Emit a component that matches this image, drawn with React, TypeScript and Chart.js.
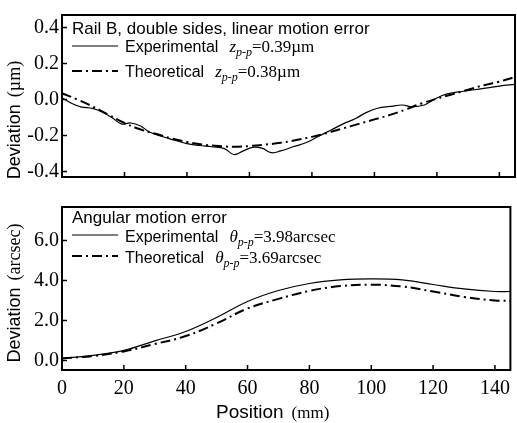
import React, { useEffect, useRef } from "react";
import { Chart, registerables } from "chart.js";

Chart.register(...registerables);

// ---------- data ----------
const xTicks = [0, 20, 40, 60, 80, 100, 120, 140];

const topYTicks = [-0.4, -0.2, 0.0, 0.2, 0.4];
const topExpX = [0, 3, 6, 10, 13, 16, 19, 22, 25, 28, 32, 36, 40, 44, 48, 52, 55, 58, 61, 64, 67, 70, 74, 78, 82, 86, 90, 94, 97, 101, 105, 109, 112, 116, 119, 123, 128, 134, 140, 145];
const topExpY = [0.01, -0.02, -0.04, -0.05, -0.07, -0.1, -0.135, -0.13, -0.145, -0.18, -0.205, -0.225, -0.245, -0.255, -0.262, -0.272, -0.305, -0.285, -0.265, -0.27, -0.295, -0.285, -0.262, -0.24, -0.205, -0.17, -0.135, -0.105, -0.075, -0.048, -0.038, -0.03, -0.04, -0.03, 0.0, 0.03, 0.045, 0.06, 0.075, 0.085];
const topTheoX = [0, 5, 10, 15, 20, 25, 30, 35, 40, 45, 50, 55, 60, 65, 70, 75, 80, 85, 90, 95, 100, 105, 110, 115, 120, 125, 130, 135, 140, 145];
const topTheoY = [0.035, 0.0, -0.04, -0.085, -0.13, -0.165, -0.19, -0.215, -0.235, -0.25, -0.258, -0.262, -0.258, -0.25, -0.24, -0.225, -0.207, -0.185, -0.16, -0.135, -0.11, -0.085, -0.055, -0.022, 0.005, 0.03, 0.055, 0.08, 0.1, 0.125];

const botYTicks = [0, 2, 4, 6];
const botX = [0, 10, 20, 30, 40, 50, 60, 70, 80, 90, 100, 110, 120, 130, 140, 145];
const botExpY = [0.1, 0.25, 0.5, 0.98, 1.45, 2.15, 2.95, 3.5, 3.85, 4.03, 4.08, 4.03, 3.8, 3.58, 3.45, 3.45];
const botTheoY = [0.1, 0.22, 0.45, 0.82, 1.22, 1.85, 2.6, 3.08, 3.48, 3.72, 3.79, 3.7, 3.45, 3.18, 3.0, 2.98];

const topTitle = "Rail B, double sides, linear motion error";
const botTitle = "Angular motion error";
const expLabel = "Experimental";
const theoLabel = "Theoretical";
const topExpMath = { sym: "z", sub: "p-p", val: "=0.39\u00b5m" };
const topTheoMath = { sym: "z", sub: "p-p", val: "=0.38\u00b5m" };
const botExpMath = { sym: "\u03b8", sub: "p-p", val: "=3.98arcsec" };
const botTheoMath = { sym: "\u03b8", sub: "p-p", val: "=3.69arcsec" };

const SANS = '"Liberation Sans", Arial, sans-serif';
const SERIF = '"Liberation Serif", "Times New Roman", serif';
const DASH = [10, 4, 2, 4];

const pts = (xs: number[], ys: number[]) => xs.map((x, i) => ({ x, y: ys[i] }));

type Row = { label: string; math: { sym: string; sub: string; val: string }; dashed: boolean; lineY: number; base: number };
type Spec = {
  title: string;
  titleBase: number;
  rows: Row[];
  yTicks: number[];
  yTitleSans: string;
  yTitleSerif: string;
  yTitleCenter: number;
  xTitle: boolean;
};

function panelPlugin(s: Spec) {
  return {
    id: "panelDeco",
    afterDraw(chart: any) {
      const { ctx, chartArea: a, scales } = chart;
      ctx.save();
      ctx.strokeStyle = "#000";
      ctx.fillStyle = "#000";
      // frame
      ctx.lineWidth = 2;
      ctx.setLineDash([]);
      ctx.strokeRect(a.left, a.top, a.right - a.left, a.bottom - a.top);
      // inward ticks
      ctx.lineWidth = 1.5;
      ctx.beginPath();
      for (const v of xTicks) {
        const px = scales.x.getPixelForValue(v);
        ctx.moveTo(px, a.bottom);
        ctx.lineTo(px, a.bottom - 5);
      }
      for (const v of s.yTicks) {
        const py = scales.y.getPixelForValue(v);
        ctx.moveTo(a.left, py);
        ctx.lineTo(a.left + 5, py);
      }
      ctx.stroke();
      // legend
      const lx = a.left + 10;
      ctx.textBaseline = "alphabetic";
      ctx.textAlign = "left";
      ctx.font = `17px ${SANS}`;
      ctx.fillText(s.title, lx, s.titleBase);
      for (const r of s.rows) {
        ctx.beginPath();
        if (r.dashed) {
          ctx.lineWidth = 2;
          ctx.setLineDash(DASH);
        } else {
          ctx.lineWidth = 1;
          ctx.setLineDash([]);
        }
        ctx.moveTo(lx, r.lineY);
        ctx.lineTo(lx + 46, r.lineY);
        ctx.stroke();
        ctx.setLineDash([]);
        ctx.font = `16px ${SANS}`;
        ctx.fillText(r.label, lx + 53, r.base);
        let x = lx + 53 + ctx.measureText(r.label).width + 11;
        ctx.font = `italic 17px ${SERIF}`;
        ctx.fillText(r.math.sym, x, r.base);
        x += ctx.measureText(r.math.sym).width;
        ctx.font = `italic 12px ${SERIF}`;
        ctx.fillText(r.math.sub, x, r.base + 4);
        x += ctx.measureText(r.math.sub).width;
        ctx.font = `17px ${SERIF}`;
        ctx.fillText(r.math.val, x, r.base);
      }
      // y title
      ctx.save();
      ctx.translate(15, s.yTitleCenter);
      ctx.rotate(-Math.PI / 2);
      ctx.textBaseline = "middle";
      ctx.font = `18px ${SANS}`;
      const w1 = ctx.measureText(s.yTitleSans).width;
      ctx.font = `18px ${SERIF}`;
      const w2 = ctx.measureText(s.yTitleSerif).width;
      const gap = 7;
      const start = -(w1 + gap + w2) / 2;
      ctx.font = `18px ${SANS}`;
      ctx.fillText(s.yTitleSans, start, 0);
      ctx.font = `18px ${SERIF}`;
      ctx.fillText(s.yTitleSerif, start + w1 + gap, 0);
      ctx.restore();
      // x title
      if (s.xTitle) {
        ctx.textBaseline = "alphabetic";
        ctx.font = `19px ${SANS}`;
        const t1 = "Position";
        const tw = ctx.measureText(t1).width;
        ctx.fillText(t1, 216, chart.height - 5);
        ctx.font = `17px ${SERIF}`;
        ctx.fillText("(mm)", 216 + tw + 8, chart.height - 5);
      }
      ctx.restore();
    },
  };
}

function makeOptions(yMin: number, yMax: number, yTicks: number[], showX: boolean, padTop: number, padBottom: number, xHeight: number) {
  return {
    responsive: false,
    animation: false,
    layout: { padding: { top: padTop, bottom: padBottom, left: 0, right: 2 } },
    plugins: { legend: { display: false }, tooltip: { enabled: false }, title: { display: false } },
    elements: { point: { radius: 0 }, line: { tension: 0.4 } },
    scales: {
      x: {
        type: "linear",
        min: 0,
        max: 145,
        display: showX,
        afterBuildTicks: (sc: any) => {
          sc.ticks = xTicks.map((v) => ({ value: v }));
        },
        afterFit: (sc: any) => {
          if (showX) sc.height = xHeight;
        },
        grid: { display: false, drawTicks: false },
        border: { display: false },
        ticks: { padding: 7, color: "#000", font: { family: SERIF, size: 20 }, maxRotation: 0, autoSkip: false },
      },
      y: {
        type: "linear",
        min: yMin,
        max: yMax,
        afterBuildTicks: (sc: any) => {
          sc.ticks = yTicks.map((v) => ({ value: v }));
        },
        afterFit: (sc: any) => {
          sc.width = 62;
        },
        grid: { display: false, drawTicks: false },
        border: { display: false },
        ticks: {
          padding: 3,
          color: "#000",
          font: { family: SERIF, size: 20 },
          callback: (v: any) => Number(v).toFixed(1),
        },
      },
    },
  } as any;
}

function datasets(expX: number[], expY: number[], theoX: number[], theoY: number[]) {
  return [
    { label: expLabel, data: pts(expX, expY), borderColor: "#000", borderWidth: 1.2, fill: false },
    { label: theoLabel, data: pts(theoX, theoY), borderColor: "#000", borderWidth: 2, borderDash: DASH, fill: false },
  ];
}

export default function App() {
  const topRef = useRef<HTMLCanvasElement>(null);
  const botRef = useRef<HTMLCanvasElement>(null);

  useEffect(() => {
    const top = new Chart(topRef.current as HTMLCanvasElement, {
      type: "line",
      data: { datasets: datasets(topExpX, topExpY, topTheoX, topTheoY) as any },
      options: makeOptions(-0.43, 0.47, topYTicks, false, 10, 9, 0),
      plugins: [
        panelPlugin({
          title: topTitle,
          titleBase: 34,
          rows: [
            { label: expLabel, math: topExpMath, dashed: false, lineY: 46, base: 52 },
            { label: theoLabel, math: topTheoMath, dashed: true, lineY: 71, base: 77 },
          ],
          yTicks: topYTicks,
          yTitleSans: "Deviation",
          yTitleSerif: "(\u00b5m)",
          yTitleCenter: 120,
          xTitle: false,
        }) as any,
      ],
    });
    const bot = new Chart(botRef.current as HTMLCanvasElement, {
      type: "line",
      data: { datasets: datasets(botX, botExpY, botX, botTheoY) as any },
      options: makeOptions(-0.48, 7.68, botYTicks, true, 7, 0, 53),
      plugins: [
        panelPlugin({
          title: botTitle,
          titleBase: 223 - 192,
          rows: [
            { label: expLabel, math: botExpMath, dashed: false, lineY: 235 - 192, base: 242 - 192 },
            { label: theoLabel, math: botTheoMath, dashed: true, lineY: 256 - 192, base: 263 - 192 },
          ],
          yTicks: botYTicks,
          yTitleSans: "Deviation",
          yTitleSerif: "(arcsec)",
          yTitleCenter: 293 - 192,
          xTitle: true,
        }) as any,
      ],
    });
    return () => {
      top.destroy();
      bot.destroy();
    };
  }, []);

  return (
    <div style={{ position: "absolute", left: 0, top: 0, width: 517, height: 423, background: "#fff" }}>
      <canvas ref={topRef} width={517} height={192} style={{ position: "absolute", left: 0, top: 0 }} />
      <canvas ref={botRef} width={517} height={231} style={{ position: "absolute", left: 0, top: 192 }} />
    </div>
  );
}
